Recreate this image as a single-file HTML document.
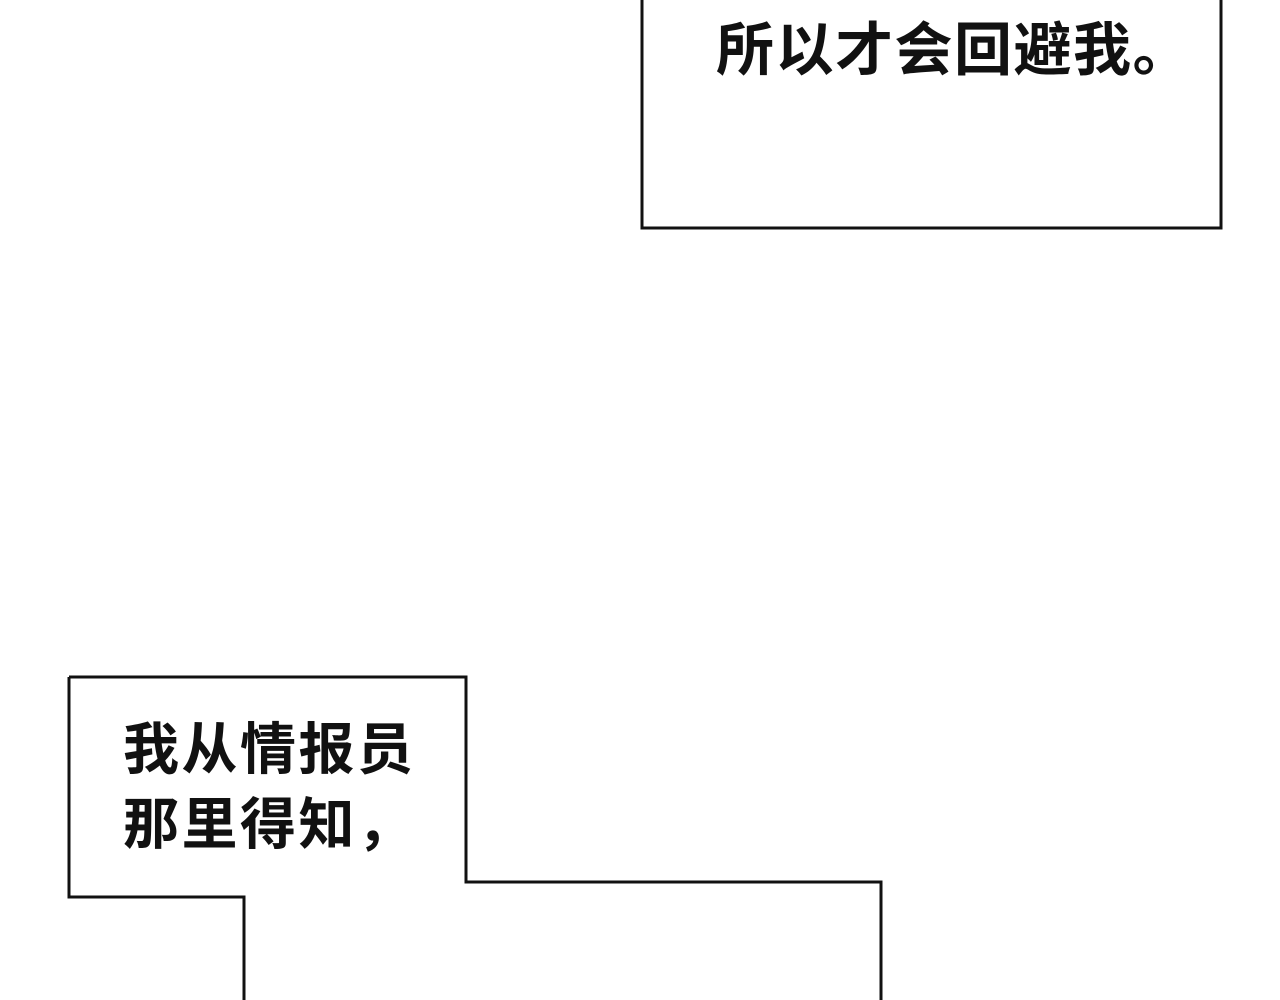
<!DOCTYPE html>
<html><head><meta charset="utf-8"><style>
html,body{margin:0;padding:0;background:#fff;}
body{width:1280px;height:1000px;position:relative;overflow:hidden;}
.t{position:absolute;font-family:"Liberation Sans","Noto Sans CJK SC",sans-serif;font-weight:bold;color:#111;white-space:nowrap;line-height:1;}
</style></head><body>
<svg width="1280" height="1000" style="position:absolute;left:0;top:0">
<g fill="none" stroke="#111" stroke-width="3">
<polyline points="642,0 642,228 1221,228 1221,0"/>
<polyline points="69,677 466,677 466,882 881,882 881,1000"/>
<polyline points="69,677 69,897 244,897 244,1000"/>
</g>
</svg>
<div class="t" style="left:716px;top:22px;font-size:58px;letter-spacing:1.5px;">所以才会回避我。</div>
<div class="t" style="left:123px;top:722px;font-size:56px;letter-spacing:2.5px;">我从情报员</div>
<div class="t" style="left:123px;top:797px;font-size:56px;letter-spacing:2.5px;">那里得知，</div>
</body></html>
